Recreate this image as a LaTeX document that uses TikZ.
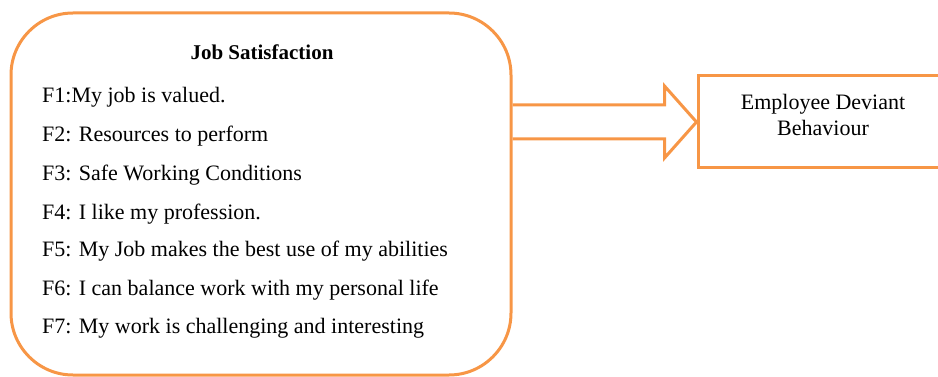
\documentclass[tikz,border=0pt]{standalone}
\usepackage{fontspec}
\setmainfont{Liberation Serif}
\usetikzlibrary{calc}
\definecolor{orng}{RGB}{247,150,70}

\begin{document}
\begin{tikzpicture}[x=1pt, y=-1pt,
    frame/.style = {draw=orng, line width=3pt},
    factor/.style = {anchor=base west, inner sep=0pt, font=\fontsize{22}{26}\selectfont}]
        \useasboundingbox (0,0) rectangle (938,377);
        \clip (0,0) rectangle (938,377);

        \node[frame, rounded corners=62pt, minimum width=500pt, minimum height=362pt] at (261, 194) (js) {};
        \node[frame, minimum width=250pt, minimum height=92pt] at (823, 122) (edb) {};
        \node[align=center, inner sep=0pt, font=\fontsize{22}{26}\selectfont] at (823, 115) (edbtext) {Employee Deviant\\Behaviour};

        \node[anchor=base, inner sep=0pt, font=\bfseries\fontsize{21}{24}\selectfont] at (262, 60) (title) {Job Satisfaction};
        \node[factor] at (42, 103) (f1) {F1:My job is valued.};
        \node[factor] at (42, 142) (f2) {F2: Resources to perform};
        \node[factor] at (42, 181) (f3) {F3: Safe Working Conditions};
        \node[factor] at (42, 219) (f4) {F4: I like my profession.};
        \node[factor] at (42, 257) (f5) {F5: My Job makes the best use of my abilities};
        \node[factor] at (42, 295) (f6) {F6: I can balance work with my personal life};
        \node[factor] at (42, 333) (f7) {F7: My work is challenging and interesting};

        \draw[frame] ($(js.east |- edb.west)+(0,-17)$) -- ($(edb.west)+(-32,-17)$) -- ($(edb.west)+(-32,-36)$)
            -- (edb.west) -- ($(edb.west)+(-32,36)$) -- ($(edb.west)+(-32,17)$) -- ($(js.east |- edb.west)+(0,17)$);
        \end{tikzpicture}
\end{document}
